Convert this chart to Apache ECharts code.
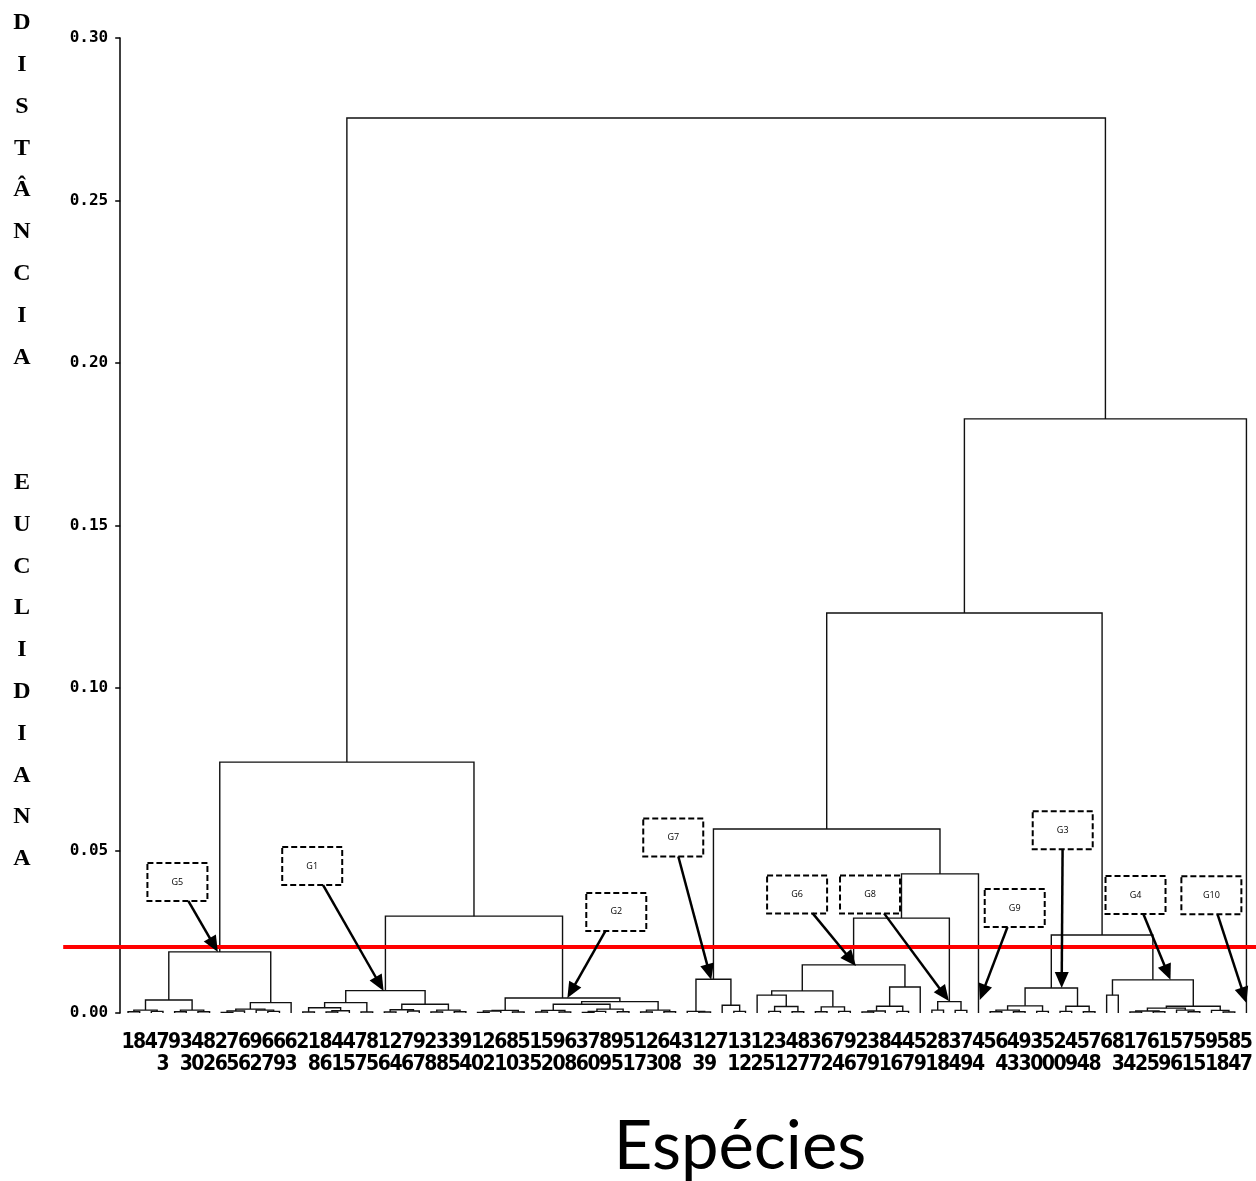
<!DOCTYPE html>
<html><head><meta charset="utf-8">
<script src="https://cdn.jsdelivr.net/npm/echarts@6/dist/echarts.min.js"></script>
<style>html,body{margin:0;padding:0;background:#fff}#chart{width:1256px;height:1181px}</style>
</head><body><div id="chart"></div>
<script>
// Leaf (species) labels in dendrogram order, left to right
const leafLabels = ['1','8','4','73','9','33','40','82','26','75','66','92','67','69','63','2','18','86','41','45',
  '77','85','16','24','76','97','28','38','35','94','10','22','61','80','53','15','52','90','68','36',
  '70','89','95','51','17','23','60','48','3','13','29','7','11','32','12','25','31','42','87','37',
  '62','74','96','27','39','81','46','47','59','21','88','34','79','44','5','64','43','93','30','50',
  '20','49','54','78','6','83','14','72','65','19','56','71','55','91','58','84','57'];

// Sub-trees: [mergeDistance, left, right]; a number is a leaf position (1-based)
const G5 = [0.0188,
  [0.0040, [0.0009,[0.0004,1,2],[0.0005,3,4]], [0.0009,[0.0004,5,6],[0.0004,7,8]]],
  [0.0032, [0.0012,[0.0006,[0.0002,9,10],11],[0.0009,12,[0.0005,13,14]]], 15]];
const G1 = [0.0069,
  [0.0032, [0.0016,[0.0003,16,17],[0.0007,[0.0003,18,19],20]], [0.0003,21,22]],
  [0.0027, [0.0010,[0.0003,23,24],[0.0006,25,26]], [0.0009,[0.0003,27,28],[0.0004,29,30]]]];
const G2 = [0.0046,
  [0.0008,[0.0006,[0.0002,31,32],33],[0.0003,34,35]],
  [0.0035,
    [0.0027,[0.0008,[0.0003,36,37],[0.0003,38,39]],[0.0012,[0.0005,[0.0002,40,41],42],[0.0004,43,44]]],
    [0.0009,[0.0003,45,46],[0.0004,47,48]]]];
const G7 = [0.0104, [0.0005,49,[0.0003,50,51]], [0.0024,52,[0.0005,53,54]]];
const G6 = [0.0148,
  [0.0068, [0.0055,55,[0.0020,[0.0005,56,57],[0.0004,58,59]]], [0.0019,[0.0004,60,61],[0.0005,62,63]]],
  [0.0080, [0.0021,[0.0006,[0.0003,64,65],66],[0.0005,67,68]], 69]];
const G8 = [0.0035, [0.0009,70,71], [0.0008,72,73]];
const G9 = 74;
const G3 = [0.0077, [0.0022,[0.0009,[0.0004,75,76],[0.0004,77,78]],[0.0005,79,80]], [0.0021,[0.0005,81,82],[0.0004,83,84]]];
const G4 = [0.0102, [0.0055,85,86],
  [0.0021, [0.0015,[0.0006,[0.0003,87,88],[0.0004,89,90]],[0.0009,91,[0.0004,92,93]]], [0.0008,94,[0.0003,95,96]]]];
const G10 = 97;
const dendrogram = [0.2754,
  [0.0772, G5, [0.0298, G1, G2]],
  [0.1828, [0.1231, [0.0566, G7, [0.0428, [0.0292, G6, G8], G9]], [0.0240, G3, G4]], G10]];

const cutDistance = 0.0203;

// Group annotations: label, box anchor [leafPos, distance], arrow tip [leafPos, distance]
const annoLabels = ['G5','G1','G2','G7','G6','G8','G9','G3','G4','G10'];
const annoBox = [[5.24,0.0403],[16.81,0.0452],[42.91,0.0311],[47.80,0.0540],[58.43,0.0365],
                 [64.69,0.0365],[77.11,0.0323],[81.23,0.0562],[87.48,0.0363],[93.99,0.0362]];
const annoTip = [[8.71,0.0188],[22.94,0.0068],[38.71,0.0046],[51.06,0.0102],[63.48,0.0145],
                 [71.46,0.0037],[74.11,0.0040],[81.14,0.0077],[90.48,0.0102],[97.0,0.0031]];

// ---- build U-shaped link segments from the tree ----
const segs = [];
function place(node){
  if (typeof node === 'number') return {x: node, h: 0};
  const a = place(node[1]), b = place(node[2]);
  segs.push([a.x, a.h, b.x, b.h, node[0]]);
  return {x: (a.x + b.x) / 2, h: node[0]};
}
place(dendrogram);

const chart = echarts.init(document.getElementById('chart'));
const option = {
  animation: false,
  backgroundColor: '#fff',
  grid: {left: 122.2, right: 2.1, top: 38, bottom: 168},
  xAxis: [
    {type: 'category', data: leafLabels, boundaryGap: true,
     axisLine: {show: false}, axisTick: {show: false}, splitLine: {show: false},
     axisLabel: {interval: 0, margin: 19, color: '#000', fontFamily: '"Liberation Sans Narrow","DejaVu Sans Condensed",sans-serif',
       fontWeight: 'bold', fontSize: 21, lineHeight: 22, verticalAlign: 'top',
       formatter: v => v.split('').join('\n')}},
    {type: 'value', min: 0.5, max: 97.5, show: false}
  ],
  yAxis: {type: 'value', min: 0, max: 0.30, interval: 0.05, offset: 2,
    axisLine: {show: true, lineStyle: {color: '#000', width: 1.5}},
    axisTick: {show: true, length: 5, lineStyle: {color: '#000', width: 1.5}},
    splitLine: {show: false},
    axisLabel: {formatter: v => v.toFixed(2), color: '#000', fontFamily: '"DejaVu Sans Mono",monospace',
      fontWeight: 'bold', fontSize: 16, margin: 12}},
  graphic: [
    {type: 'text', x: 22, y: 2, style: {text: 'D\nI\nS\nT\nÂ\nN\nC\nI\nA\n\n\nE\nU\nC\nL\nI\nD\nI\nA\nN\nA',
      fontFamily: '"Liberation Serif",serif', fontWeight: 'bold', fontSize: 24, lineHeight: 41.8,
      align: 'center', verticalAlign: 'top', fill: '#000'}},
    {type: 'text', x: 740, y: 1147, style: {text: 'Espécies', fontFamily: 'Lato,sans-serif', fontSize: 67,
      align: 'center', verticalAlign: 'middle', fill: '#000'}}
  ],
  series: [
    {type: 'custom', xAxisIndex: 1, yAxisIndex: 0, data: segs, encode: {x: [0, 2], y: [1, 3, 4]}, z: 2,
     renderItem: (params, api) => {
       const p1 = api.coord([api.value(0), api.value(1)]);
       const p2 = api.coord([api.value(0), api.value(4)]);
       const p3 = api.coord([api.value(2), api.value(4)]);
       const p4 = api.coord([api.value(2), api.value(3)]);
       return {type: 'polyline', shape: {points: [p1, p2, p3, p4]},
         style: {stroke: '#111', lineWidth: 1.4, fill: null}};
     }},
    {type: 'custom', xAxisIndex: 1, yAxisIndex: 0, data: [[1, cutDistance]], encode: {x: 0, y: 1}, z: 3,
     renderItem: (params, api) => {
       const y = api.coord([api.value(0), api.value(1)])[1];
       const cs = params.coordSys;
       return {type: 'line', shape: {x1: cs.x - 59, y1: y, x2: api.getWidth(), y2: y},
         style: {stroke: '#ff0000', lineWidth: 4}};
     }},
    {type: 'custom', xAxisIndex: 1, yAxisIndex: 0, z: 4,
     data: annoBox.map((b, i) => [b[0], b[1], annoTip[i][0], annoTip[i][1]]),
     encode: {x: [0, 2], y: [1, 3]},
     renderItem: (params, api) => {
       const i = params.dataIndex;
       const c = api.coord([api.value(0), api.value(1)]);
       const t = api.coord([api.value(2), api.value(3)]);
       const w = 60, h = 38;
       const dx = t[0] - c[0], dy = t[1] - c[1];
       const s = Math.min(dx ? (w / 2) / Math.abs(dx) : 1e9, dy ? (h / 2) / Math.abs(dy) : 1e9);
       const sx = c[0] + dx * s, sy = c[1] + dy * s;
       const len = Math.hypot(t[0] - sx, t[1] - sy);
       const ux = (t[0] - sx) / len, uy = (t[1] - sy) / len;
       const L = 16, W = 7;
       const bx = t[0] - ux * L, by = t[1] - uy * L;
       return {type: 'group', children: [
         {type: 'rect', shape: {x: c[0] - w / 2, y: c[1] - h / 2, width: w, height: h},
          style: {fill: '#fff', stroke: '#000', lineWidth: 2, lineDash: [6, 3]}},
         {type: 'text', style: {x: c[0], y: c[1], text: annoLabels[i], align: 'center', verticalAlign: 'middle',
          fontSize: 9, fontFamily: '"Open Sans",sans-serif', fill: '#000'}},
         {type: 'line', shape: {x1: sx, y1: sy, x2: bx + ux * 2, y2: by + uy * 2}, style: {stroke: '#000', lineWidth: 2.5}},
         {type: 'polygon', shape: {points: [[t[0], t[1]], [bx - uy * W, by + ux * W], [bx + uy * W, by - ux * W]]},
          style: {fill: '#000'}}
       ]};
     }}
  ]
};
chart.setOption(option);
</script>
</body></html>
